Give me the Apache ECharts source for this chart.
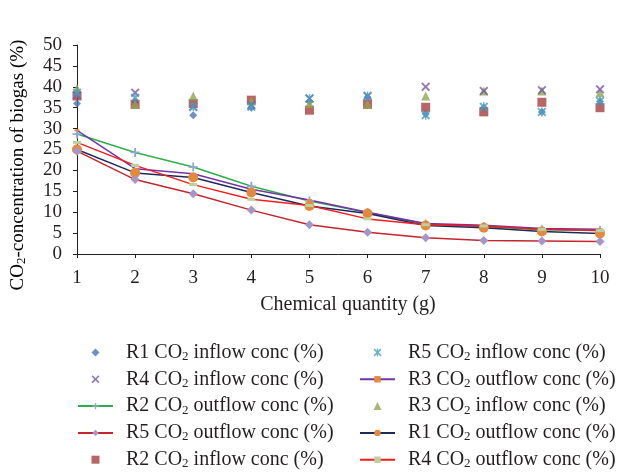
<!DOCTYPE html>
<html><head><meta charset="utf-8">
<script src="https://cdn.jsdelivr.net/npm/echarts@6/dist/echarts.min.js"></script>
<style>html,body{margin:0;padding:0;background:#fff}#c{width:627px;height:472px}</style>
</head><body><div id="c"></div>
<script>
var categories = ['1','2','3','4','5','6','7','8','9','10'];
var yTicks = [0,5,10,15,20,25,30,35,40,45,50];
var r1In  = [36.0, 36.5, 33.2, 35.0, 36.5, 37.5, 33.5, 35.0, 34.0, 36.5];
var r2In  = [37.8, 35.8, 36.0, 36.8, 34.4, 35.8, 35.1, 34.0, 36.3, 35.0];
var r3In  = [39.6, 35.8, 37.8, 36.6, 36.0, 35.8, 37.8, 39.0, 39.0, 38.6];
var r4In  = [38.0, 38.6, 35.2, 35.6, 37.2, 37.8, 40.0, 39.0, 39.2, 39.4];
var r5In  = [38.6, 37.4, 35.2, 35.2, 37.2, 37.8, 33.2, 35.2, 34.0, 36.6];
var r1Out = [25.0, 19.4, 18.3, 14.7, 11.5, 9.7, 6.8, 6.3, 5.4, 4.9];
var r2Out = [28.7, 24.3, 20.8, 16.2, 12.7, 9.9, 7.2, 6.6, 5.8, 5.6];
var r3Out = [29.6, 20.4, 19.2, 15.5, 12.9, 10.0, 7.3, 6.9, 6.1, 5.9];
var r4Out = [26.7, 21.2, 16.6, 13.1, 11.6, 8.4, 7.0, 6.7, 5.9, 5.6];
var r5Out = [24.6, 17.8, 14.4, 10.5, 7.0, 5.2, 3.9, 3.2, 3.1, 3.0];

var FONT = '"Liberation Serif", "DejaVu Serif", serif';
var xPath = 'path://M0,1.5L1.5,0L5,3.5L8.5,0L10,1.5L6.5,5L10,8.5L8.5,10L5,6.5L1.5,10L0,8.5L3.5,5Z';
var starPath = 'path://M0,1.5L1.5,0L4.2,2.7L4.2,0L5.8,0L5.8,2.7L8.5,0L10,1.5L6.5,5L10,8.5L8.5,10L5.8,7.3L5.8,10L4.2,10L4.2,7.3L1.5,10L0,8.5L3.5,5Z';
var plusPath = 'path://M4,0L6,0L6,4L10,4L10,6L6,6L6,10L4,10L4,6L0,6L0,4L4,4Z';
var diamondPath = 'path://M5,0L10,5L5,10L0,5Z';
var squarePath = 'path://M0,0L10,0L10,10L0,10Z';
var triPath = 'path://M5,0L10,10L0,10Z';
var dashPath = 'path://M0,0L10,0L10,4L0,4Z';

function nm(r, kind){ return r + ' CO2 ' + kind + ' conc (%)'; }

var TXT = '#231f20';
var legRich = {
  a: {fontFamily: FONT, fontSize: 20, color: TXT, lineHeight: 20},
  s: {fontFamily: FONT, fontSize: 13, color: TXT, lineHeight: 12, padding: [8,0,0,0]}
};
var yRich = {
  a: {fontFamily: FONT, fontSize: 19, color: TXT, lineHeight: 20},
  s: {fontFamily: FONT, fontSize: 13, color: TXT, lineHeight: 12, padding: [8,0,0,0]}
};

function legendFmt(name){
  var p = name.split('CO2');
  return '{a|' + p[0] + 'CO}{s|2}{a|' + p[1] + '}';
}

function scatter(name, data, symbol, size, color){
  return {name: name, type: 'scatter', data: data, symbol: symbol, symbolSize: size,
          itemStyle: {color: color}, z: 3};
}
function line(name, data, lineColor, symbol, size, mColor){
  return {name: name, type: 'line', data: data, symbol: symbol, symbolSize: size,
          showSymbol: true, lineStyle: {color: lineColor, width: 1.5},
          itemStyle: {color: mColor, borderWidth: 0}, z: 2};
}

var series = [
  line(nm('R2','outflow'), r2Out, '#2eae4a', plusPath, 9, '#8ea7d6'),
  line(nm('R3','outflow'), r3Out, '#7434a8', 'rect', [5,2], '#e58b3a'),
  line(nm('R1','outflow'), r1Out, '#1c2a5e', 'circle', 10, '#e3883c'),
  line(nm('R4','outflow'), r4Out, '#f21c1c', 'rect', [8,3], '#b7d29d'),
  line(nm('R5','outflow'), r5Out, '#c4252c', diamondPath, 9, '#a596c6'),
  scatter(nm('R1','inflow'), r1In, diamondPath, 8, '#4877b3'),
  scatter(nm('R2','inflow'), r2In, squarePath, 9, '#a6403f'),
  scatter(nm('R3','inflow'), r3In, triPath, 9, '#8ea54f'),
  scatter(nm('R4','inflow'), r4In, xPath, 9, '#7a5aa2'),
  scatter(nm('R5','inflow'), r5In, starPath, 9, '#4a9dbd')
];

function legendCfg(left, names){
  return {
    left: left, top: 342, height: 140, padding: 0,
    orient: 'vertical', itemWidth: 35, itemHeight: 8, itemGap: 5.8,
    symbolKeepAspect: true,
    formatter: legendFmt, textStyle: {rich: legRich, padding: [0,0,0,8]},
    selectedMode: false, data: names
  };
}

var chart = echarts.init(document.getElementById('c'), null, {renderer: 'canvas'});
chart.setOption({
  animation: false,
  backgroundColor: '#fff',
  grid: {left: 77, right: 27, top: 45, bottom: 218, containLabel: false},
  xAxis: {
    type: 'category', data: categories, boundaryGap: false,
    axisLine: {lineStyle: {color: TXT, width: 1}},
    axisTick: {alignWithLabel: true, length: 4, lineStyle: {color: TXT}},
    axisLabel: {fontFamily: FONT, fontSize: 19, color: TXT, margin: 15}
  },
  yAxis: {
    type: 'value', min: yTicks[0], max: yTicks[yTicks.length-1], interval: 5,
    axisLine: {show: true, lineStyle: {color: TXT, width: 1}},
    axisTick: {show: true, length: 4, lineStyle: {color: TXT}},
    splitLine: {show: false},
    axisLabel: {fontFamily: FONT, fontSize: 19, color: TXT, margin: 15}
  },
  legend: [
    legendCfg(77, [nm('R1','inflow'), nm('R4','inflow'), nm('R2','outflow'), nm('R5','outflow'), nm('R2','inflow')]),
    legendCfg(359, [nm('R5','inflow'), nm('R3','outflow'), nm('R3','inflow'), nm('R1','outflow'), nm('R4','outflow')])
  ],
  graphic: [
    {type: 'text', x: 348, y: 305, style: {text: 'Chemical quantity (g)', font: '20px ' + FONT, fill: TXT, align: 'center', verticalAlign: 'middle'}},
    {type: 'text', x: 18, y: 165, rotation: Math.PI/2,
     style: {text: '{a|CO}{s|2}{a|-concentration of biogas (%)}', rich: yRich, align: 'center', verticalAlign: 'middle'}}
  ],
  series: series
});
</script></body></html>
